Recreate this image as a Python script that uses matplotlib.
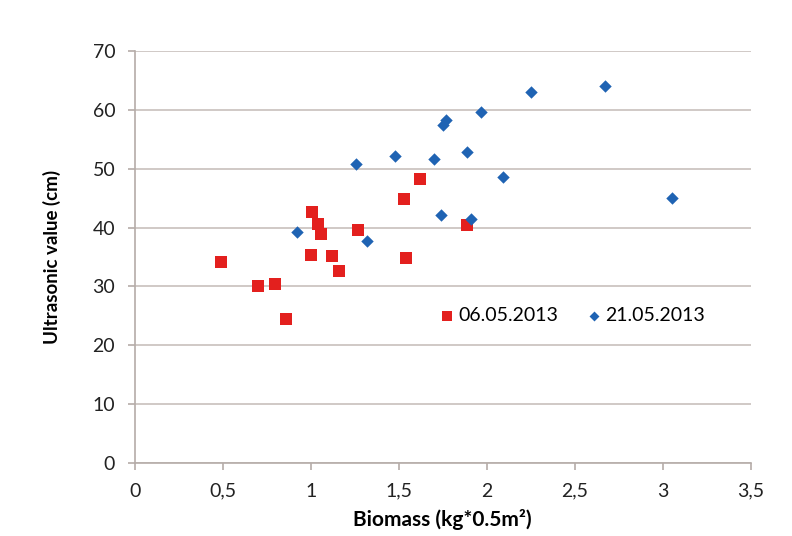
import matplotlib.pyplot as plt

plt.rcParams['font.family'] = ['Lato', 'DejaVu Sans']

# 06.05.2013
biomass_may06 = [0.49, 0.70, 0.80, 0.86, 1.00, 1.01, 1.04, 1.06, 1.12, 1.16,
                 1.27, 1.53, 1.54, 1.62, 1.89]
ultra_may06 = [34.2, 30.0, 30.5, 24.5, 35.3, 42.6, 40.6, 38.9, 35.1, 32.7,
               39.6, 44.9, 34.8, 48.3, 40.4]

# 21.05.2013
biomass_may21 = [0.92, 1.26, 1.32, 1.48, 1.70, 1.74, 1.75, 1.77, 1.89, 1.91,
                 1.97, 2.09, 2.25, 2.67, 3.05]
ultra_may21 = [39.3, 50.8, 37.7, 52.1, 51.7, 42.1, 57.5, 58.3, 52.8, 41.4,
               59.6, 48.6, 63.1, 64.0, 45.0]

x_ticks = [0, 0.5, 1, 1.5, 2, 2.5, 3, 3.5]
x_labels = ['0', '0,5', '1', '1,5', '2', '2,5', '3', '3,5']
y_ticks = [0, 10, 20, 30, 40, 50, 60, 70]

fig = plt.figure(figsize=(7.92, 5.36), dpi=100)
ax = fig.add_axes([0.170, 0.136, 0.778, 0.769])

ax.scatter(biomass_may06, ultra_may06, marker='s', s=70, color='#e3201e',
           linewidths=0, label='06.05.2013', zorder=3)
ax.scatter(biomass_may21, ultra_may21, marker='D', s=40, color='#1f63b3',
           linewidths=0, label='21.05.2013', zorder=3)

ax.set_xlim(0, 3.5)
ax.set_ylim(0, 70)
ax.set_xticks(x_ticks)
ax.set_xticklabels(x_labels)
ax.set_yticks(y_ticks)
ax.yaxis.grid(True, color='#c8c0bc', linewidth=1.2)
ax.set_axisbelow(True)

for side in ['top', 'right']:
    ax.spines[side].set_visible(False)
for side in ['left', 'bottom']:
    ax.spines[side].set_color('#b5aca8')
    ax.spines[side].set_linewidth(1.2)
ax.tick_params(axis='both', colors='#b5aca8', length=5, width=1.2,
               labelsize=14, labelcolor='#222222')
ax.tick_params(axis='y', pad=9)
ax.tick_params(axis='x', pad=9)

ax.set_xlabel('Biomass (kg*0.5m²)', fontsize=15, fontweight='bold', labelpad=7)
ax.set_ylabel('Ultrasonic value (cm)', fontsize=13.5, fontweight='bold', labelpad=23)

ax.legend(loc='center left', bbox_to_anchor=(0.482, 0.359), ncol=2, frameon=False,
          fontsize=14, borderpad=0, handlelength=0.6, handletextpad=0.3,
          columnspacing=1.5, markerscale=0.8)

fig.savefig('out.png', dpi=100, facecolor='white')
